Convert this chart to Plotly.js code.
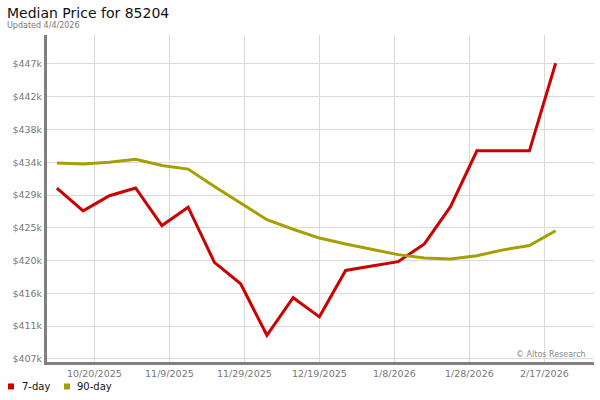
<!DOCTYPE html>
<html><head><meta charset="utf-8">
<script src="https://cdn.plot.ly/plotly-3.0.1.min.js"></script>
<style>html,body{margin:0;padding:0;background:#fff}</style>
</head><body><div id="chart" style="width:600px;height:400px"></div>
<script>
const dates = ['2025-10-10','2025-10-17','2025-10-24','2025-10-31','2025-11-07','2025-11-14','2025-11-21','2025-11-28','2025-12-05','2025-12-12','2025-12-19','2025-12-26','2026-01-02','2026-01-09','2026-01-16','2026-01-23','2026-01-30','2026-02-06','2026-02-13','2026-02-20'];
const sevenDay = [430000,426900,428950,430000,424900,427400,419900,417000,410000,415100,412500,418800,419400,420000,422400,427500,435050,435050,435050,446950];
const ninetyDay = [433400,433250,433500,433900,433060,432570,430200,427900,425700,424400,423200,422400,421700,420950,420500,420360,420800,421600,422200,424200];
const xTickVals = ['2025-10-20','2025-11-09','2025-11-29','2025-12-19','2026-01-08','2026-01-28','2026-02-17'];
const xTickLabels = ['10/20/2025','11/9/2025','11/29/2025','12/19/2025','1/8/2026','1/28/2026','2/17/2026'];
const yTickVals = [406800,411250,415700,420150,424600,429050,433500,437950,442400,446850];
const yTickLabels = ['$407k','$411k','$416k','$420k','$425k','$429k','$434k','$438k','$442k','$447k'];
const seriesNames = ['7-day','90-day'];
const seriesColors = ['#cc0000','#a3a000'];

const font = 'DejaVu Sans, Verdana, sans-serif';
const W = 600, H = 400, ML = 47, MR = 6, MT = 35, MB = 37.5;
const PW = W - ML - MR, PH = H - MT - MB;
const px = v => (v - ML) / PW;          // figure pixel x -> paper fraction
const py = v => (H - MB - v) / PH;      // figure pixel y -> paper fraction

const traces = seriesNames.map((n, i) => ({
  x: dates, y: i === 0 ? sevenDay : ninetyDay, mode: 'lines', name: n,
  line: {color: seriesColors[i], width: 3}
}));

// custom legend (square swatch + label) at bottom-left
const legendSquareX = [8, 64];
const legendTextX = [20, 75];
const shapes = seriesNames.map((n, i) => ({
  type: 'rect', xref: 'paper', yref: 'paper',
  x0: px(legendSquareX[i]), x1: px(legendSquareX[i] + 6), y0: py(390), y1: py(384),
  fillcolor: seriesColors[i], line: {width: 0}
}));
const legendAnn = seriesNames.map((n, i) => ({
  text: n, xref: 'paper', yref: 'paper', x: px(legendTextX[i]), y: py(387),
  xanchor: 'left', yanchor: 'middle', showarrow: false,
  font: {family: font, size: 10, color: '#111'}
}));

const layout = {
  width: W, height: H,
  margin: {l: ML, r: MR, t: MT, b: MB, pad: 0},
  paper_bgcolor: '#fff', plot_bgcolor: '#fff',
  showlegend: false,
  font: {family: font, size: 10, color: '#777'},
  title: {text: 'Median Price for 85204', x: 7/W, xanchor: 'left', xref: 'container', y: 1 - 13/H, yanchor: 'middle', yref: 'container', font: {family: font, size: 14, color: '#111'}},
  xaxis: {type: 'date', range: ['2025-10-07 08:38', '2026-03-02 05:30'], tickvals: xTickVals, ticktext: xTickLabels,
    showgrid: true, gridcolor: '#dadada', gridwidth: 1, zeroline: false, showline: true, linecolor: '#808080', linewidth: 3,
    ticks: '', ticklabelstandoff: 1, tickfont: {family: font, size: 9.5, color: '#777'}, fixedrange: true},
  yaxis: {range: [406370, 450780], tickvals: yTickVals, ticktext: yTickLabels,
    showgrid: true, gridcolor: '#dadada', gridwidth: 1, zeroline: false, showline: true, linecolor: '#808080', linewidth: 3,
    ticks: '', tickfont: {family: font, size: 9.5, color: '#777'}, fixedrange: true},
  shapes: shapes,
  annotations: [
    {text: 'Updated 4/4/2026', xref: 'paper', yref: 'paper', x: px(5), y: py(25), xanchor: 'left', yanchor: 'middle', showarrow: false,
      font: {family: font, size: 8, color: '#777'}},
    {text: '\u00a9 Altos Research', xref: 'paper', yref: 'paper', x: 1, y: 0, xanchor: 'right', yanchor: 'bottom', xshift: -6, yshift: 1, showarrow: false,
      font: {family: font, size: 8, color: '#888'}}
  ].concat(legendAnn)
};
Plotly.newPlot('chart', traces, layout, {displayModeBar: false, staticPlot: true});
</script></body></html>
